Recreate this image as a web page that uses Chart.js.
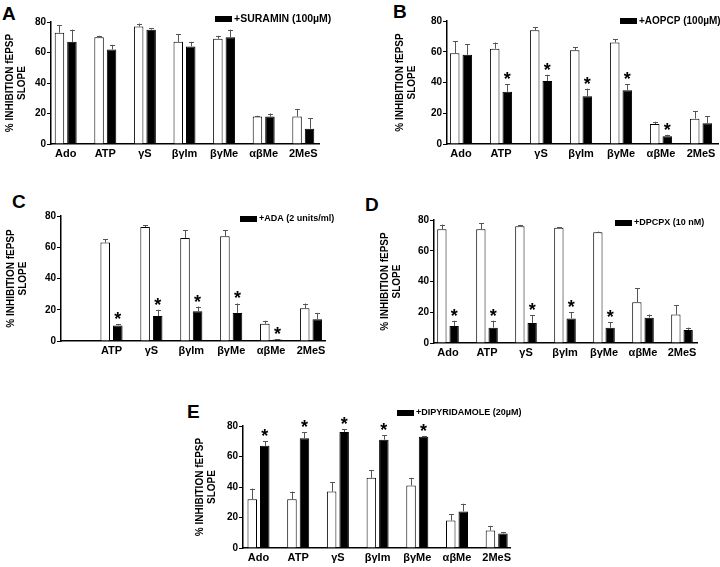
<!DOCTYPE html>
<html>
<head>
<meta charset="utf-8">
<script src="https://cdn.jsdelivr.net/npm/chart.js@4/dist/chart.umd.min.js"></script>
<style>
  body { margin: 0; background: #fff; width: 720px; height: 567px; position: relative; overflow: hidden; }
  canvas { position: absolute; display: block; }
  .tag { position: absolute; font: bold 19px/19px "Liberation Sans", Arial, sans-serif; color: #000; }
</style>
</head>
<body>
<div class="tag" style="left:2px;top:4px">A</div>
<div class="tag" style="left:393px;top:2px">B</div>
<div class="tag" style="left:12px;top:192px">C</div>
<div class="tag" style="left:365px;top:195px">D</div>
<div class="tag" style="left:187px;top:402px">E</div>
<script>
const agonists = ["Ado", "ATP", "γS", "βγIm", "βγMe", "αβMe", "2MeS"];
const agonistsC = ["", "ATP", "γS", "βγIm", "βγMe", "αβMe", "2MeS"];
const yTicks = [0, 20, 40, 60, 80];

// A - suramin
const suraminCtrl = [73, 70, 77, 67, 69, 18, 18];
const suraminCtrlErr = [5, 1, 2, 5, 2, 0.5, 5];
const suramin = [67, 62, 75, 64, 70, 18, 10];
const suraminErr = [8, 3, 1, 3, 5, 2, 7];
const suraminStar = [0, 0, 0, 0, 0, 0, 0];

// B - AOPCP
const aopcpCtrl = [59, 62, 74, 61, 66, 13, 16.5];
const aopcpCtrlErr = [8, 4, 2, 2, 2, 1.5, 5];
const aopcp = [58, 34, 41, 31, 35, 5, 13.5];
const aopcpErr = [7, 5, 4, 5, 4, 1, 4.5];
const aopcpStar = [0, 1, 1, 1, 1, 1, 0];

// C - ADA
const adaCtrl = [null, 63, 73, 66, 67, 11, 21];
const adaCtrlErr = [0, 2, 1, 5, 4, 2, 3];
const ada = [null, 10, 16, 19, 18, 0.9, 14];
const adaErr = [0, 0.7, 4, 3, 6, 0.2, 4];
const adaStar = [0, 1, 1, 1, 1, 1, 0];

// D - DPCPX
const dpcpxCtrl = [74, 74, 76, 75, 72, 26.5, 18.5];
const dpcpxCtrlErr = [3, 4, 0.8, 0.5, 0.5, 9, 6];
const dpcpx = [11, 10, 13, 16, 10, 16.5, 8.5];
const dpcpxErr = [3.5, 4.5, 5, 4, 3.5, 2, 1.5];
const dpcpxStar = [1, 1, 1, 1, 1, 0, 0];

// E - dipyridamole
const dipyCtrl = [32, 32, 37, 46, 41, 18, 11.5];
const dipyCtrlErr = [7, 5, 6, 5, 5, 4, 3];
const dipy = [67, 72, 76, 71, 73, 24, 9.5];
const dipyErr = [3, 4, 2, 3, 0.5, 5, 1];
const dipyStar = [1, 1, 1, 1, 1, 0, 0];

Chart.defaults.font.family = '"Liberation Sans", Arial, sans-serif';
Chart.defaults.color = '#000';

// whiskers (upper only) and significance stars
const errorBars = {
  id: 'errorBars',
  afterDatasetsDraw(chart) {
    const ctx = chart.ctx;
    const y = chart.scales.y;
    chart.data.datasets.forEach((ds, i) => {
      chart.getDatasetMeta(i).data.forEach((bar, j) => {
        const v = ds.data[j];
        if (v == null) return;
        const x = Math.round(bar.x) + 0.5;
        const top = y.getPixelForValue(v + ds.err[j]);
        ctx.save();
        ctx.strokeStyle = '#555';
        ctx.lineWidth = 1;
        ctx.beginPath();
        ctx.moveTo(x, bar.y);
        ctx.lineTo(x, top);
        ctx.moveTo(x - 2.5, Math.round(top) + 0.5);
        ctx.lineTo(x + 2.5, Math.round(top) + 0.5);
        ctx.stroke();
        if (ds.stars && ds.stars[j]) {
          ctx.fillStyle = '#000';
          ctx.font = 'bold 18px "Liberation Sans", Arial';
          ctx.textAlign = 'center';
          ctx.textBaseline = 'top';
          ctx.fillText('*', bar.x, top - 13);
        }
        ctx.restore();
      });
    });
  }
};

// small legend key: black box + label
const key = {
  id: 'key',
  afterDraw(chart, args, opts) {
    const ctx = chart.ctx;
    ctx.save();
    ctx.fillStyle = '#000';
    ctx.fillRect(opts.x, opts.y - 3, 17, 6);
    ctx.font = 'bold ' + opts.size + 'px "Liberation Sans", Arial';
    ctx.textBaseline = 'middle';
    ctx.fillText(opts.text, opts.x + 19, opts.y);
    ctx.restore();
  }
};

function makePanel(p) {
  const [cx, cy, cw, ch] = p.canvas;
  const [L, T, R, B] = p.area;
  const box = p.titleX - 6;
  const xh = 18;
  const cv = document.createElement('canvas');
  cv.width = cw;
  cv.height = ch;
  cv.style.left = cx + 'px';
  cv.style.top = cy + 'px';
  document.body.appendChild(cv);

  new Chart(cv, {
    type: 'bar',
    data: {
      labels: p.labels,
      datasets: [
        { data: p.ctrl, err: p.ctrlErr, backgroundColor: '#fff', borderColor: '#000', borderWidth: 1 },
        { data: p.drug, err: p.drugErr, stars: p.stars, backgroundColor: '#000', borderColor: '#000', borderWidth: 1 }
      ]
    },
    options: {
      responsive: false,
      animation: false,
      layout: { padding: { left: box - cx, right: cx + cw - R, top: T - cy, bottom: cy + ch - B - xh } },
      datasets: { bar: { categoryPercentage: 0.63, barPercentage: 0.76 } },
      plugins: {
        legend: { display: false },
        tooltip: { enabled: false },
        key: { x: p.key[0] - cx, y: p.key[1] - cy, text: p.keyText, size: p.keySize }
      },
      scales: {
        x: {
          grid: { display: false, drawTicks: false },
          border: { color: '#000', width: 1.5 },
          ticks: { font: { size: 11, weight: 'bold' }, color: '#000', padding: 3, maxRotation: 0, autoSkip: false },
          afterFit: s => { s.height = xh; },
          afterBuildTicks: s => {
            s._startValue = -(p.c0 - L) / p.step;
            s._valueRange = (R - L) / p.step;
          }
        },
        y: {
          min: 0,
          max: 80,
          afterBuildTicks: s => { s.ticks = yTicks.map(v => ({ value: v })); },
          ticks: { font: { size: 10, weight: 'bold' }, color: '#000', padding: 1 },
          grid: { drawOnChartArea: false, color: '#000', tickLength: 4 },
          border: { color: '#000', width: 1.5 },
          title: {
            display: true,
            text: ['% INHIBITION fEPSP', 'SLOPE'],
            font: { size: 10, weight: 'bold', lineHeight: 1.2 },
            color: '#000',
            padding: 0
          },
          afterFit: s => { s.width = L - box; }
        }
      }
    },
    plugins: [errorBars, key]
  });
}

makePanel({ canvas: [0, 0, 360, 180], area: [51, 22, 319, 144], titleX: 10, c0: 65.7, step: 39.6,
  key: [215, 19], keyText: '+SURAMIN (100µM)', keySize: 10.5, labels: agonists,
  ctrl: suraminCtrl, ctrlErr: suraminCtrlErr, drug: suramin, drugErr: suraminErr, stars: suraminStar });

makePanel({ canvas: [360, 0, 360, 180], area: [447, 21, 718, 144], titleX: 400, c0: 461, step: 40,
  key: [620, 21], keyText: '+AOPCP (100µM)', keySize: 10, labels: agonists,
  ctrl: aopcpCtrl, ctrlErr: aopcpCtrlErr, drug: aopcp, drugErr: aopcpErr, stars: aopcpStar });

makePanel({ canvas: [0, 180, 360, 190], area: [61, 216, 325, 341], titleX: 11, c0: 71.6, step: 39.9,
  key: [240, 219], keyText: '+ADA (2 units/ml)', keySize: 9, labels: agonistsC,
  ctrl: adaCtrl, ctrlErr: adaCtrlErr, drug: ada, drugErr: adaErr, stars: adaStar });

makePanel({ canvas: [360, 180, 360, 190], area: [434, 220, 697, 343], titleX: 385, c0: 448, step: 39,
  key: [615, 223], keyText: '+DPCPX (10 nM)', keySize: 9, labels: agonists,
  ctrl: dpcpxCtrl, ctrlErr: dpcpxCtrlErr, drug: dpcpx, drugErr: dpcpxErr, stars: dpcpxStar });

makePanel({ canvas: [180, 380, 360, 187], area: [243, 426, 510, 548], titleX: 200, c0: 258.5, step: 39.7,
  key: [397, 413], keyText: '+DIPYRIDAMOLE (20µM)', keySize: 9, labels: agonists,
  ctrl: dipyCtrl, ctrlErr: dipyCtrlErr, drug: dipy, drugErr: dipyErr, stars: dipyStar });
</script>
</body>
</html>
